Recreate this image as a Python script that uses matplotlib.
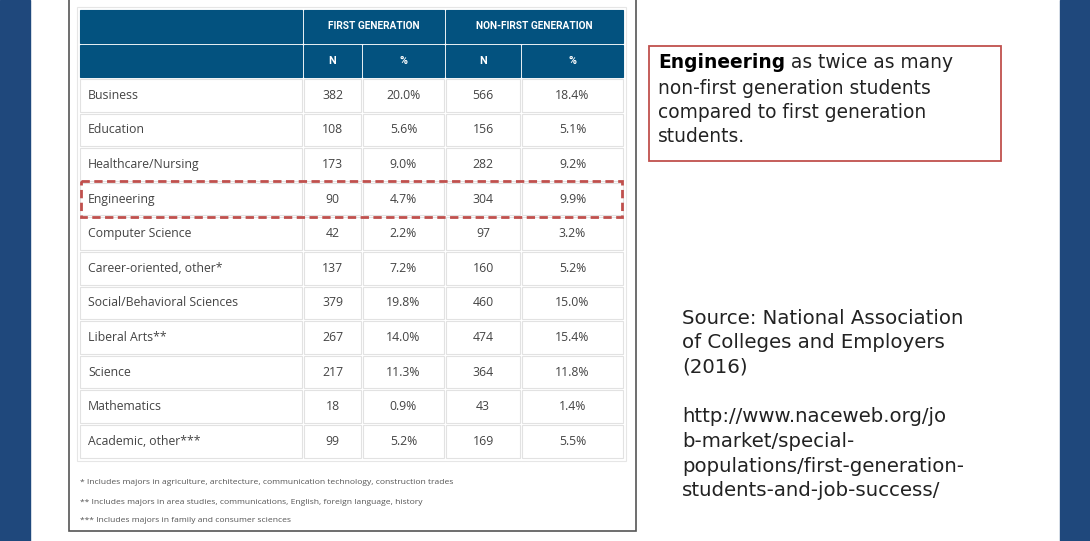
import matplotlib
matplotlib.use("Agg")
import matplotlib.pyplot as plt
from matplotlib.patches import Rectangle

# table data
majors = ["Business", "Education", "Healthcare/Nursing", "Engineering", "Computer Science",
          "Career-oriented, other*", "Social/Behavioral Sciences", "Liberal Arts**",
          "Science", "Mathematics", "Academic, other***"]
fg_n = [382, 108, 173, 90, 42, 137, 379, 267, 217, 18, 99]
fg_pct = [20.0, 5.6, 9.0, 4.7, 2.2, 7.2, 19.8, 14.0, 11.3, 0.9, 5.2]
nfg_n = [566, 156, 282, 304, 97, 160, 460, 474, 364, 43, 169]
nfg_pct = [18.4, 5.1, 9.2, 9.9, 3.2, 5.2, 15.0, 15.4, 11.8, 1.4, 5.5]
groups = ["FIRST GENERATION", "NON-FIRST GENERATION"]
sub_heads = ["N", "%", "N", "%"]
footnotes = ["* Includes majors in agriculture, architecture, communication technology, construction trades",
             "** Includes majors in area studies, communications, English, foreign language, history",
             "*** Includes majors in family and consumer sciences"]
highlight = "Engineering"
note_bold = "Engineering"
note_rest = [" as twice as many", "non-first generation students",
             "compared to first generation", "students."]
source_lines = ["Source: National Association", "of Colleges and Employers", "(2016)", "",
                "http://www.naceweb.org/jo", "b-market/special-",
                "populations/first-generation-", "students-and-job-success/"]

HEAD = "#03527f"
SIDE = "#1f487c"
RED = "#c0504d"
TXT = "#444444"
GRID = "#e2e2e2"

fig = plt.figure(figsize=(10.9, 5.41), dpi=100)
ax = fig.add_axes([0, 0, 1, 1])
ax.set_xlim(0, 1090)
ax.set_ylim(541, 0)
ax.axis("off")

# slide side bars
ax.add_patch(Rectangle((0, 0), 30, 541, color=SIDE))
ax.add_patch(Rectangle((1060, 0), 30, 541, color=SIDE))

# screenshot frame
ax.add_patch(Rectangle((69, -5), 567, 536, fill=False, ec="#555555", lw=1.2))
ax.add_patch(Rectangle((77, 7), 549, 454, fill=False, ec="#e6e6e6", lw=0.8))

col_x = [79, 303, 362, 445, 521, 624]
row_h = 34.6
top = 78

tfont = ["Open Sans", "DejaVu Sans"]
hfont = ["Roboto", "DejaVu Sans"]

def cell(x0, x1, y0, y1, face, edge):
    ax.add_patch(Rectangle((x0 + 1, y0 + 1), x1 - x0 - 2, y1 - y0 - 2, fc=face, ec=edge, lw=0.8))

# header rows
cell(col_x[0], col_x[1], 9, 43.5, HEAD, HEAD)
cell(col_x[1], col_x[3], 9, 43.5, HEAD, HEAD)
cell(col_x[3], col_x[5], 9, 43.5, HEAD, HEAD)
for g, (a, b) in zip(groups, [(1, 3), (3, 5)]):
    ax.text((col_x[a] + col_x[b]) / 2, 26, g, color="white", fontsize=7.3, fontweight="bold",
            ha="center", va="center", family=hfont)
cell(col_x[0], col_x[1], 43.5, 78, HEAD, HEAD)
for i, h in enumerate(sub_heads):
    cell(col_x[i + 1], col_x[i + 2], 43.5, 78, HEAD, HEAD)
    ax.text((col_x[i + 1] + col_x[i + 2]) / 2, 61, h, color="white", fontsize=7.8,
            fontweight="bold", ha="center", va="center", family=hfont)

# data rows
for r, m in enumerate(majors):
    y0 = top + r * row_h
    y1 = y0 + row_h
    yc = (y0 + y1) / 2
    vals = [str(fg_n[r]), f"{fg_pct[r]:.1f}%", str(nfg_n[r]), f"{nfg_pct[r]:.1f}%"]
    cell(col_x[0], col_x[1], y0, y1, "white", GRID)
    ax.text(88, yc, m, color=TXT, fontsize=8.8, ha="left", va="center", family=tfont)
    for i, v in enumerate(vals):
        cell(col_x[i + 1], col_x[i + 2], y0, y1, "white", GRID)
        ax.text((col_x[i + 1] + col_x[i + 2]) / 2, yc, v, color=TXT, fontsize=8.8,
                ha="center", va="center", family=tfont)
    if m == highlight:
        ax.add_patch(Rectangle((81, y0 - 0.5), 541, row_h + 1, fill=False, ec=RED, lw=2,
                               ls=(0, (3, 1.6)), zorder=5))

# footnotes
for i, f in enumerate(footnotes):
    ax.text(80, 483 + i * 19, f, color="#555555", fontsize=6.1, ha="left", va="center",
            family=tfont)

# note box
ax.add_patch(Rectangle((649, 46), 352, 115, fill=False, ec=RED, lw=1.3))
nfont = ["DejaVu Sans"]
t = ax.text(658, 63, note_bold, fontsize=13.4, fontweight="bold", color="black",
            ha="left", va="center", family=nfont)
ax.annotate(note_rest[0], xy=(1, 0), xycoords=t, fontsize=13.4, color="#222222",
            ha="left", va="bottom", family=nfont)
for i, line in enumerate(note_rest[1:]):
    ax.text(658, 88 + i * 24.5, line, fontsize=13.4, color="#222222", ha="left",
            va="center", family=nfont)

# source
for i, line in enumerate(source_lines):
    ax.text(682, 318 + i * 24.7, line, fontsize=14.2, color="#222222", ha="left",
            va="center", family=nfont)

fig.savefig("out.png", dpi=100)
